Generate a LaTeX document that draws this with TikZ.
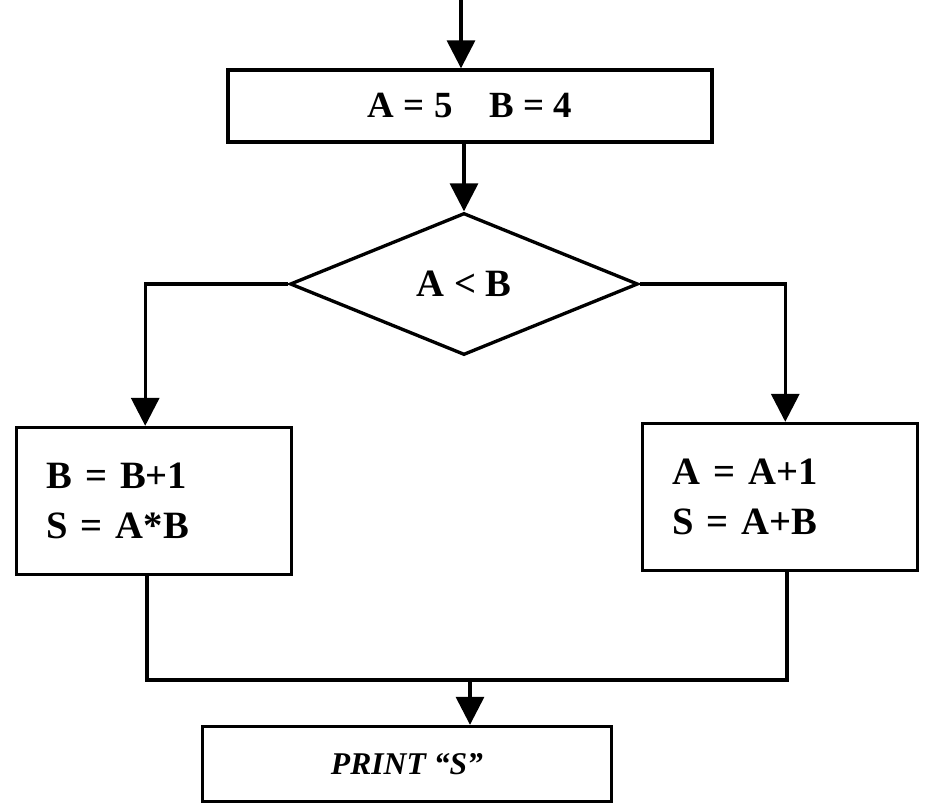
\documentclass[tikz,border=0pt]{standalone}
\usepackage{fontspec}
\setmainfont{Liberation Serif}
\usetikzlibrary{arrows.meta,positioning,shapes.geometric}

\begin{document}
\begin{tikzpicture}[
  x=0.2mm, y=-0.2mm,
  line width=1.9pt,
  font=\bfseries\fontsize{22}{28}\selectfont,
  arrow/.style={-{Triangle[length=5.6mm, width=5.6mm]}},
  proc/.style={rectangle, draw, inner sep=0pt, align=center},
  calc/.style={rectangle, draw, align=left, inner xsep=6mm,
               text width=43mm, minimum height=29.4mm},
  decide/.style={diamond, draw, inner sep=0pt, minimum width=69.6mm, minimum height=28.4mm}
]
\useasboundingbox (0,0) rectangle (930,808);

% Nodes
\coordinate (entry) at (461,0);

\node[proc, minimum width=96.8mm, minimum height=14.4mm,
      font=\bfseries\fontsize{21}{25}\selectfont] (init) at (470,106)
  {A = 5\quad B = 4};

\node[decide] (cond) at (464,284) {A < B};

\node[calc] (incb) at (154,501) {B = B+1\\S = A*B};

\node[calc] (inca) at (780,497) {A = A+1\\S = A+B};

\node[proc, minimum width=81.8mm, minimum height=15mm,
      font=\bfseries\itshape\fontsize{18}{22}\selectfont] (print) at (407,764)
  {PRINT “S”};

\coordinate (merge) at (470,680);

% Arrows
\draw[arrow] (entry) -- (entry |- init.north);
\draw[arrow] (init.south -| cond.north) -- (cond.north);
\draw[arrow] (cond.west) -| ([xshift=-5]incb.north);
\draw[arrow] (cond.east) -| ([xshift=3]inca.north);
\draw ([xshift=-4]incb.south) |- (merge) -| ([xshift=4]inca.south);
\draw[arrow] (merge) -- (merge |- print.north);

\end{tikzpicture}
\end{document}
